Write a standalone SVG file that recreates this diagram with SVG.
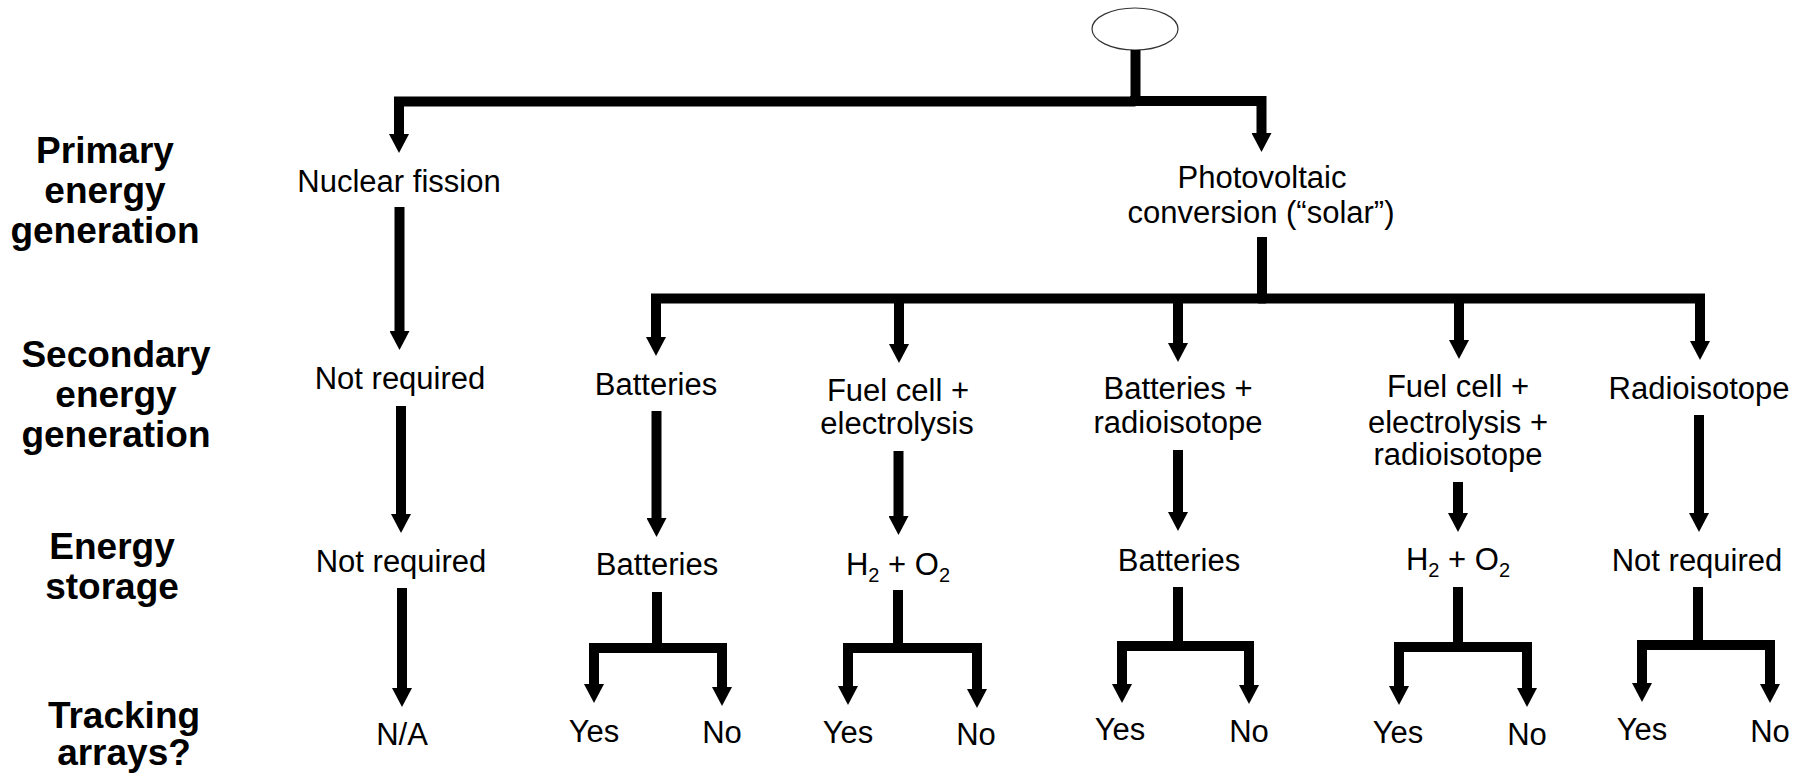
<svg xmlns="http://www.w3.org/2000/svg" width="1806" height="775" viewBox="0 0 1806 775">
<style>
.t{font-family:"Liberation Sans",Arial,sans-serif;font-size:31px;fill:#000;text-anchor:middle}
.h{font-family:"Liberation Sans",Arial,sans-serif;font-size:37px;font-weight:bold;fill:#000;text-anchor:middle}
.s{font-size:20px}
.c{fill:none;stroke:#000;stroke-width:10;stroke-linejoin:miter;stroke-linecap:butt}
.a{marker-end:url(#ah)}
</style>
<defs>
<marker id="ah" markerUnits="userSpaceOnUse" markerWidth="20" markerHeight="20" viewBox="0 0 20 20" refX="0" refY="10" orient="auto">
<path d="M0,0 L19,10 L0,20 z" fill="#000"/>
</marker>
</defs>
<rect width="1806" height="775" fill="#fff"/>

<g id="row-labels">
<text class="h" x="105" y="163">Primary</text>
<text class="h" x="105" y="203">energy</text>
<text class="h" x="105" y="243">generation</text>
<text class="h" x="116" y="367">Secondary</text>
<text class="h" x="116" y="407">energy</text>
<text class="h" x="116" y="447">generation</text>
<text class="h" x="112" y="559">Energy</text>
<text class="h" x="112" y="599">storage</text>
<text class="h" x="124" y="728">Tracking</text>
<text class="h" x="124" y="765">arrays?</text>
</g>

<g id="root"><ellipse cx="1135" cy="29" rx="43" ry="21" fill="#fff" stroke="#333" stroke-width="1.2"/></g>

<g id="n-nuclear"><text class="t" x="399" y="192">Nuclear fission</text></g>
<g id="n-pv"><text class="t" x="1262" y="188">Photovoltaic</text><text class="t" x="1261" y="223">conversion (“solar”)</text></g>

<g id="s-notreq"><text class="t" x="400" y="389">Not required</text></g>
<g id="s-bat"><text class="t" x="656" y="395">Batteries</text></g>
<g id="s-fc"><text class="t" x="898" y="401">Fuel cell +</text><text class="t" x="897" y="434">electrolysis</text></g>
<g id="s-batrad"><text class="t" x="1178" y="399">Batteries +</text><text class="t" x="1178" y="433">radioisotope</text></g>
<g id="s-fcrad"><text class="t" x="1458" y="397">Fuel cell +</text><text class="t" x="1458" y="433">electrolysis +</text><text class="t" x="1458" y="465">radioisotope</text></g>
<g id="s-rad"><text class="t" x="1699" y="399">Radioisotope</text></g>

<g id="e-notreq"><text class="t" x="401" y="572">Not required</text></g>
<g id="e-bat"><text class="t" x="657" y="575">Batteries</text></g>
<g id="e-h2o2"><text class="t" x="898" y="575">H<tspan class="s" dy="7">2</tspan><tspan dy="-7"> + O</tspan><tspan class="s" dy="7">2</tspan></text></g>
<g id="e-bat2"><text class="t" x="1179" y="571">Batteries</text></g>
<g id="e-h2o2b"><text class="t" x="1458" y="570">H<tspan class="s" dy="7">2</tspan><tspan dy="-7"> + O</tspan><tspan class="s" dy="7">2</tspan></text></g>
<g id="e-notreq2"><text class="t" x="1697" y="571">Not required</text></g>

<g id="t-na"><text class="t" x="402" y="745">N/A</text></g>
<g id="t-1"><text class="t" x="594" y="742">Yes</text><text class="t" x="722" y="743">No</text></g>
<g id="t-2"><text class="t" x="848" y="743">Yes</text><text class="t" x="976" y="745">No</text></g>
<g id="t-3"><text class="t" x="1120" y="740">Yes</text><text class="t" x="1249" y="742">No</text></g>
<g id="t-4"><text class="t" x="1398" y="743">Yes</text><text class="t" x="1527" y="745">No</text></g>
<g id="t-5"><text class="t" x="1642" y="740">Yes</text><text class="t" x="1770" y="742">No</text></g>

<g id="connectors">
<path class="c" d="M1135.5,50 V102"/>
<path class="c a" d="M1135.5,101.5 H399 V134"/>
<path class="c a" d="M1130,101 H1261.5 V133"/>
<path class="c a" d="M399.5,207 V331"/>
<path class="c" d="M1262,237 V299"/>
<path class="c a" d="M1266,298.5 H656 V337"/>
<path class="c a" d="M1258,298.5 H1700 V341"/>
<path class="c a" d="M899,298.5 V344"/>
<path class="c a" d="M1178,298.5 V343"/>
<path class="c a" d="M1459,298.5 V340"/>

<path class="c a" d="M401,406 V514"/>
<path class="c a" d="M656.5,411 V518"/>
<path class="c a" d="M898.5,451 V516"/>
<path class="c a" d="M1178,450 V512"/>
<path class="c a" d="M1458,482 V513"/>
<path class="c a" d="M1699,415 V513"/>

<path class="c a" d="M402,588 V688"/>

<path class="c" d="M657,592 V653"/>
<path class="c a" d="M662,648 H594 V684"/>
<path class="c a" d="M652,648 H722 V687"/>

<path class="c" d="M898,590 V653"/>
<path class="c a" d="M903,648 H848 V686"/>
<path class="c a" d="M893,648 H977 V689"/>

<path class="c" d="M1178,587 V651"/>
<path class="c a" d="M1183,646 H1122 V684"/>
<path class="c a" d="M1173,646 H1249 V685"/>

<path class="c" d="M1458,587 V652"/>
<path class="c a" d="M1463,647 H1399 V686"/>
<path class="c a" d="M1453,647 H1527 V688"/>

<path class="c" d="M1698,587 V650"/>
<path class="c a" d="M1703,645 H1642 V683"/>
<path class="c a" d="M1693,645 H1770 V684"/>
</g>
</svg>
